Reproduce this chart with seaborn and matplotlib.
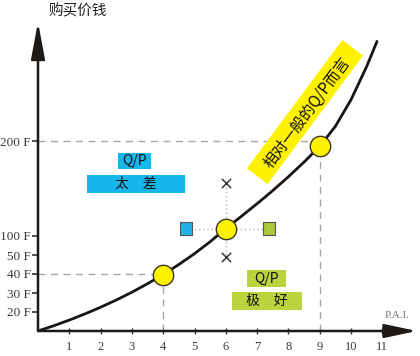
import numpy as np
import pandas as pd
import matplotlib
matplotlib.use("Agg")
import matplotlib.pyplot as plt
import matplotlib.transforms as mtransforms
from matplotlib.patches import Rectangle
import seaborn as sns

# ---------------- data ----------------
curve_x = [0, 0.5, 1, 1.5, 2, 2.5, 3, 3.5, 4, 4.5, 5, 5.5, 6, 6.5, 7, 7.5, 8, 8.5,
           9, 9.5, 10, 10.5, 10.83]
curve_y = [0, 0.275, 0.575, 0.9, 1.25, 1.63, 2.04, 2.49, 2.97, 3.5, 4.07, 4.7, 5.39,
           6.04, 6.7, 7.39, 8.12, 8.89, 9.72, 10.77, 12.17, 13.92, 15.24]

key_x = [4, 6, 9]
key_y = [2.97, 5.39, 9.72]

alt_x = [4.73, 7.38]
alt_y = [5.39, 5.39]
alt_kind = ["poor", "good"]

cross_x = [6, 6]
cross_y = [7.8, 3.9]

ref_level_y = [3, 10]      # 40 F and 200 F
ref_level_x = [4, 9]

x_ticks = [1, 2, 3, 4, 5, 6, 7, 8, 9, 10, 11]
y_ticks = [1, 2, 3, 4, 5, 10]
y_tick_labels = ["20 F", "30 F", "40 F", "50 F", "100 F", "200 F"]

y_title = "购买价钱"
x_title = "P.A.I."
band_text = "相对一般的Q/P而言"
poor_texts = ["Q/P", "太\u3000差"]
good_texts = ["Q/P", "极\u3000好"]

# ---------------- style ----------------
sns.set_theme(style="white")
plt.rcParams["font.family"] = ["Noto Sans CJK SC", "DejaVu Sans"]

W, H = 420, 356
fig = plt.figure(figsize=(W / 100, H / 100), dpi=100)
X0, Y0 = 38, 331          # pixel position of origin
SX, SY = 31.3, 19.0       # pixels per data unit
XMAX, YMAX = 12.1, 16.26
ax = fig.add_axes([X0 / W, (H - Y0) / H, XMAX * SX / W, YMAX * SY / H])
ax.set_xlim(0, XMAX)
ax.set_ylim(0, YMAX)
for s in ax.spines.values():
    s.set_visible(False)
ax.patch.set_alpha(0)


def pd_(px, py):
    return (px - X0) / SX, (Y0 - py) / SY


# axes arrows
axis_col = "#1e1a18"
ax.annotate("", xy=(0, YMAX), xytext=(0, 0),
            arrowprops=dict(arrowstyle="-|>,head_length=1.6,head_width=0.3",
                            mutation_scale=14, lw=1.8, color=axis_col,
                            shrinkA=0, shrinkB=0),
            annotation_clip=False, zorder=5)
ax.annotate("", xy=(XMAX, 0), xytext=(0, 0),
            arrowprops=dict(arrowstyle="-|>,head_length=1.4,head_width=0.3",
                            mutation_scale=14, lw=1.8, color=axis_col,
                            shrinkA=0, shrinkB=0),
            annotation_clip=False, zorder=5)

# ticks
serif = ["Liberation Serif", "DejaVu Serif"]
ax.set_xticks(x_ticks)
ax.set_xticklabels([str(v) for v in x_ticks], family=serif, fontsize=9, color="#3a3a3a")
ax.set_yticks(y_ticks)
ax.set_yticklabels(y_tick_labels, family=serif, fontsize=9.5, color="#3a3a3a")
ax.tick_params(axis="x", direction="inout", length=5, width=1, color="#333333", pad=5, bottom=True)
ax.tick_params(axis="y", direction="out", length=4, width=1.2, color="#333333", pad=1, left=True)

# reference dashed lines
dash_col = "#a8a4a8"
for lx, ly in zip(ref_level_x, ref_level_y):
    ax.plot([0, lx], [ly, ly], color=dash_col, lw=1, dashes=(5, 4), zorder=1)
    ax.plot([lx, lx], [0, ly], color=dash_col, lw=1, dashes=(5, 4), zorder=1)

# dotted connectors around the middle point
dot_col = "#b0b0b0"
ax.plot([alt_x[0], alt_x[1]], [alt_y[0], alt_y[1]], color=dot_col, lw=1, ls=(0, (1, 2)), zorder=1)
ax.plot([cross_x[0], cross_x[1]], [cross_y[0], cross_y[1]], color=dot_col, lw=1, ls=(0, (1, 2)), zorder=1)

# curve
df_curve = pd.DataFrame({"x": curve_x, "y": curve_y})
sns.lineplot(data=df_curve, x="x", y="y", ax=ax, color="#1a1412", lw=2, sort=False,
             zorder=3, solid_joinstyle="round", solid_capstyle="round")

# key points
df_key = pd.DataFrame({"x": key_x, "y": key_y})
sns.scatterplot(data=df_key, x="x", y="y", ax=ax, s=215, color="#fff200",
                edgecolor="#3a3520", linewidth=1, zorder=4)

# alternative squares
df_alt = pd.DataFrame({"x": alt_x, "y": alt_y, "kind": alt_kind})
sns.scatterplot(data=df_alt, x="x", y="y", hue="kind", ax=ax, marker="s", s=80,
                palette={"poor": "#1fb1e8", "good": "#acc93e"},
                edgecolor="#555555", linewidth=0.8, legend=False, zorder=4)

# crosses
df_cross = pd.DataFrame({"x": cross_x, "y": cross_y})
sns.scatterplot(data=df_cross, x="x", y="y", ax=ax, marker="x", s=45,
                color="#3a3a3a", linewidth=1.1, zorder=4)

ax.set_xlabel("")
ax.set_ylabel("")


# label boxes (pixel extents of the coloured strips)
def strip(px0, py0, px1, py1, text, color, fs):
    x0, y1 = pd_(px0, py0)
    x1, y0 = pd_(px1, py1)
    ax.add_patch(Rectangle((x0, y0), x1 - x0, y1 - y0, facecolor=color,
                           edgecolor="none", zorder=2, clip_on=False))
    ax.text((x0 + x1) / 2, (y0 + y1) / 2, text, ha="center", va="center",
            fontsize=fs, color="#111111", zorder=3)


blue = "#16b6ec"
green = "#b9d43c"
strip(118, 153, 151, 169, poor_texts[0], blue, 10)
strip(87, 175, 185, 193, poor_texts[1], blue, 10)
strip(247, 270, 286, 287, good_texts[0], green, 10)
strip(232, 292, 302, 310, good_texts[1], green, 10)

# yellow rotated band with text (pixel geometry, converted to inches)
cx, cy = 305 / 100, (H - 112) / 100
L, Wd = 1.60, 0.26
ang = 53.4
band = Rectangle((cx - L / 2, cy - Wd / 2), L, Wd, facecolor="#fff200", edgecolor="none",
                 transform=mtransforms.Affine2D().rotate_deg_around(cx, cy, ang) + fig.dpi_scale_trans)
fig.patches.append(band)
fig.text(cx + 0.02, cy - 0.01, band_text, transform=fig.dpi_scale_trans, rotation=ang,
         rotation_mode="anchor", ha="center", va="center", fontsize=11, color="#111111")

# axis titles
tx, ty = pd_(78, 11)
ax.text(tx, ty, y_title, ha="center", va="center", fontsize=10.5, color="#222222", clip_on=False)
tx, ty = pd_(397, 315)
ax.text(tx, ty, x_title, ha="center", va="center", fontsize=8, color="#777777",
        family=serif, clip_on=False)

fig.savefig("out.png", dpi=100)
